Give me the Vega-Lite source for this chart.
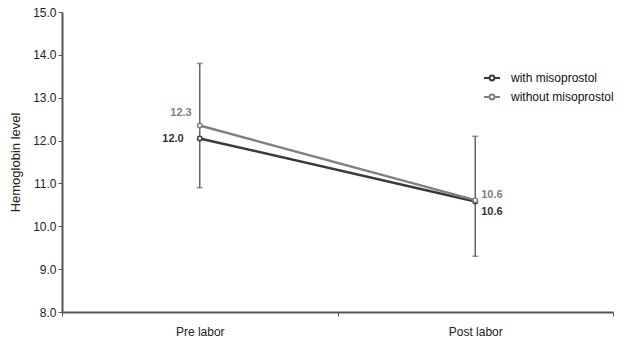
{
  "$schema": "https://vega.github.io/schema/vega-lite/v6.json",
  "width": 551,
  "height": 300,
  "autosize": {"type": "none"},
  "padding": {"left": 62, "top": 12, "right": 13, "bottom": 26},
  "background": "white",
  "config": {
    "view": {"stroke": null},
    "font": "Liberation Sans",
    "axis": {"labelFont": "Liberation Sans", "titleFont": "Liberation Sans", "domainColor": "#555", "tickColor": "#555", "labelColor": "#222", "titleColor": "#222", "grid": false, "labelFontSize": 12, "titleFontSize": 13, "titleFontWeight": "normal", "domainWidth": 2}
  },
  "datasets": {
    "pts": [
      {"group": "with misoprostol", "time": "Pre labor", "value": 12.05, "label": "12.0"},
      {"group": "with misoprostol", "time": "Post labor", "value": 10.58, "label": "10.6"},
      {"group": "without misoprostol", "time": "Pre labor", "value": 12.35, "label": "12.3"},
      {"group": "without misoprostol", "time": "Post labor", "value": 10.61, "label": "10.6"}
    ],
    "err": [
      {"time": "Pre labor", "lo": 10.9, "hi": 13.8},
      {"time": "Post labor", "lo": 9.3, "hi": 12.1}
    ]
  },
  "encoding": {
    "x": {"field": "time", "type": "nominal", "sort": ["Pre labor", "Post labor"], "title": null,
      "scale": {"paddingInner": 0, "paddingOuter": 0},
      "axis": {"labelAngle": 0, "tickBand": "extent", "tickSize": 4, "labelPadding": 10, "labelFontSize": 12}},
    "y": {"field": "value", "type": "quantitative", "scale": {"domain": [8, 15]},
      "axis": {"title": "Hemoglobin level", "format": ".1f", "values": [8, 9, 10, 11, 12, 13, 14, 15], "tickSize": 4, "labelPadding": 2, "titlePadding": 10, "labelOverlap": false}}
  },
  "layer": [
    {
      "data": {"name": "err"},
      "mark": {"type": "rule", "color": "#666", "strokeWidth": 1.5},
      "encoding": {
        "y": {"field": "lo", "type": "quantitative", "scale": {"domain": [8, 15]},
          "axis": {"title": "Hemoglobin level", "format": ".1f", "values": [8, 9, 10, 11, 12, 13, 14, 15], "tickSize": 4, "labelPadding": 2, "titlePadding": 10, "labelOverlap": false}},
        "y2": {"field": "hi"}
      }
    },
    {
      "data": {"name": "err"},
      "mark": {"type": "tick", "color": "#666", "orient": "horizontal", "size": 6, "thickness": 1.5},
      "encoding": {"y": {"field": "lo", "type": "quantitative", "scale": {"domain": [8, 15]},
          "axis": {"title": "Hemoglobin level", "format": ".1f", "values": [8, 9, 10, 11, 12, 13, 14, 15], "tickSize": 4, "labelPadding": 2, "titlePadding": 10, "labelOverlap": false}}}
    },
    {
      "data": {"name": "err"},
      "mark": {"type": "tick", "color": "#666", "orient": "horizontal", "size": 6, "thickness": 1.5},
      "encoding": {"y": {"field": "hi", "type": "quantitative", "scale": {"domain": [8, 15]},
          "axis": {"title": "Hemoglobin level", "format": ".1f", "values": [8, 9, 10, 11, 12, 13, 14, 15], "tickSize": 4, "labelPadding": 2, "titlePadding": 10, "labelOverlap": false}}}
    },
    {
      "data": {"name": "pts"},
      "mark": {"type": "line", "strokeWidth": 2.5},
      "encoding": {
        "color": {"field": "group", "type": "nominal", "scale": {"domain": ["with misoprostol", "without misoprostol"], "range": ["#3a3a3a", "#808080"]},
          "legend": {"title": null, "orient": "none", "legendX": 421, "legendY": 57, "labelFontSize": 12, "labelColor": "#111", "labelFont": "Liberation Sans",
            "symbolType": "M-1,0H-0.3M0.3,0H1M0.3,0A0.3,0.3 0 1,1 -0.3,0A0.3,0.3 0 1,1 0.3,0", "symbolSize": 256, "symbolStrokeWidth": 2, "symbolFillColor": "white", "rowPadding": 3, "labelOffset": 10}}
      }
    },
    {
      "data": {"name": "pts"},
      "mark": {"type": "point", "filled": false, "fill": "white", "opacity": 1, "fillOpacity": 1, "size": 20, "strokeWidth": 1.5},
      "encoding": {
        "stroke": {"field": "group", "type": "nominal", "scale": {"domain": ["with misoprostol", "without misoprostol"], "range": ["#3a3a3a", "#808080"]}, "legend": null}
      }
    },
    {
      "data": {"name": "pts"},
      "transform": [{"filter": "datum.group == 'with misoprostol' && datum.time == 'Pre labor'"}],
      "mark": {"type": "text", "align": "right", "dx": -16, "dy": 1, "fontWeight": "bold", "fontSize": 11, "color": "#333"},
      "encoding": {"text": {"field": "label"}}
    },
    {
      "data": {"name": "pts"},
      "transform": [{"filter": "datum.group == 'without misoprostol' && datum.time == 'Pre labor'"}],
      "mark": {"type": "text", "align": "right", "dx": -8, "dy": -13, "fontWeight": "bold", "fontSize": 11, "color": "#808080"},
      "encoding": {"text": {"field": "label"}}
    },
    {
      "data": {"name": "pts"},
      "transform": [{"filter": "datum.group == 'without misoprostol' && datum.time == 'Post labor'"}],
      "mark": {"type": "text", "align": "left", "dx": 6, "dy": -5, "fontWeight": "bold", "fontSize": 11, "color": "#808080"},
      "encoding": {"text": {"field": "label"}}
    },
    {
      "data": {"name": "pts"},
      "transform": [{"filter": "datum.group == 'with misoprostol' && datum.time == 'Post labor'"}],
      "mark": {"type": "text", "align": "left", "dx": 6, "dy": 11, "fontWeight": "bold", "fontSize": 11, "color": "#333"},
      "encoding": {"text": {"field": "label"}}
    }
  ]
}
